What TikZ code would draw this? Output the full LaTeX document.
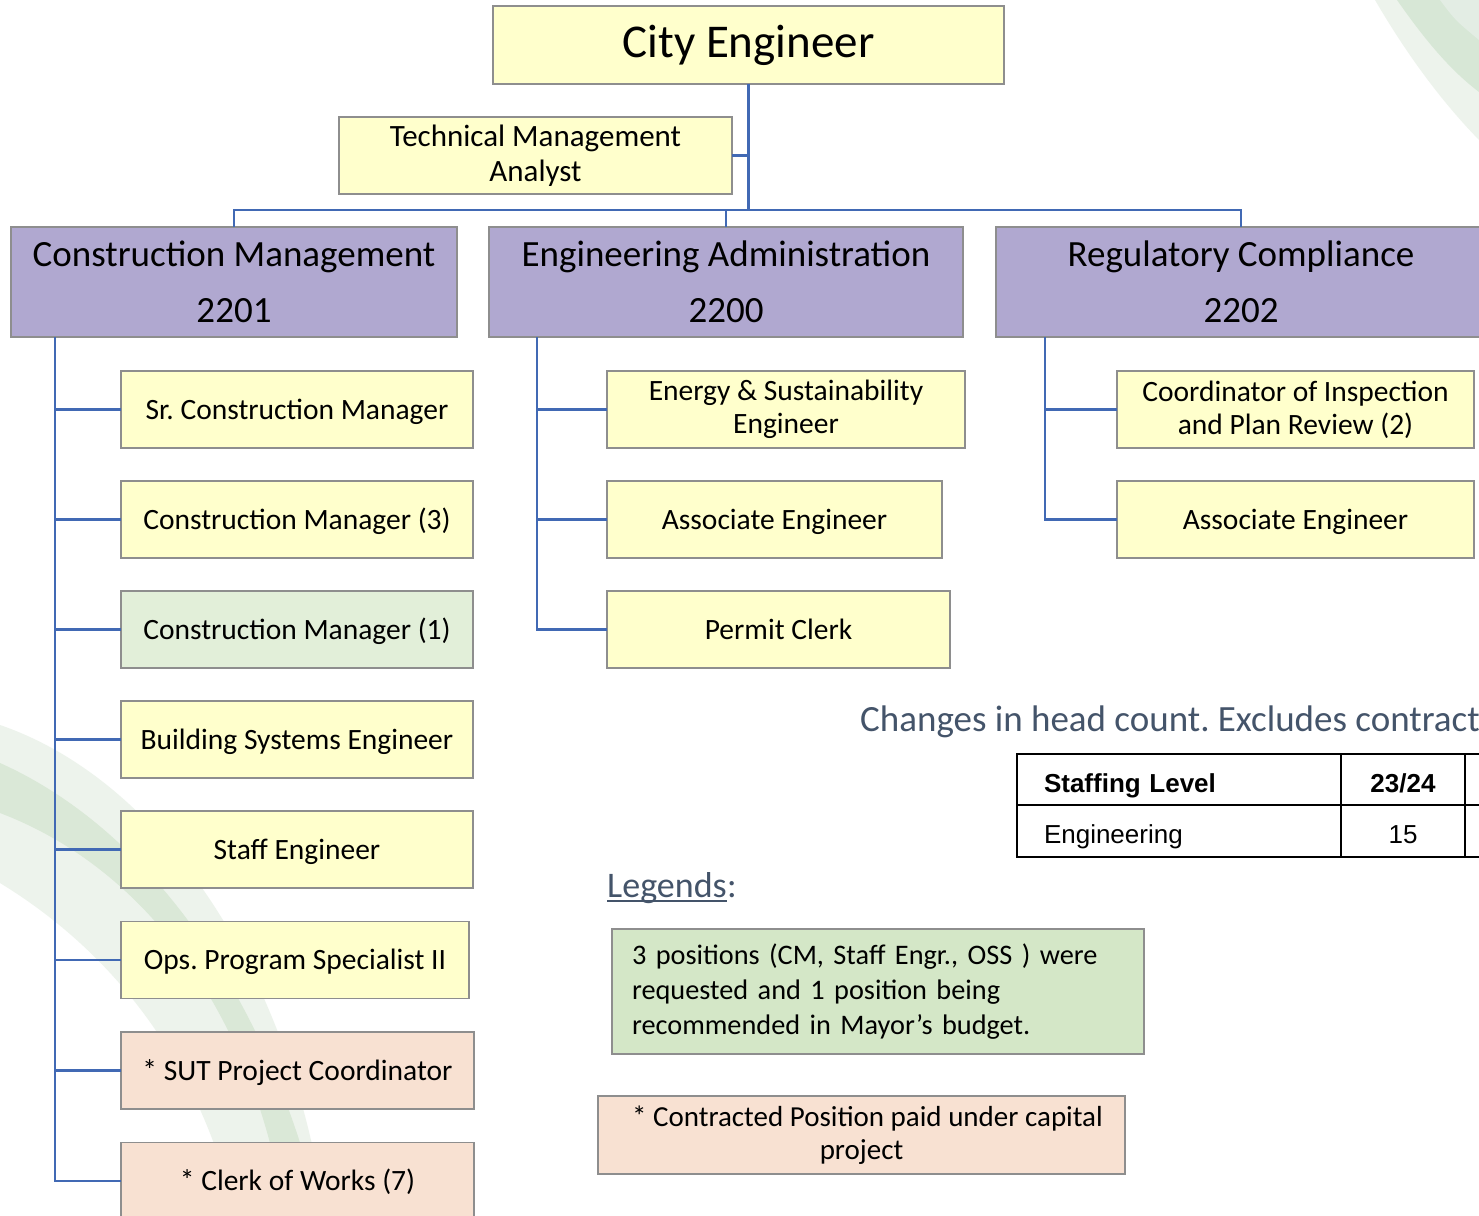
\documentclass[tikz,border=0pt]{standalone}
\usepackage{fontspec}
\setmainfont{Carlito}
\newfontfamily\arialfont{Liberation Sans}
\newcommand\setfs[2]{\fontsize{#1}{#2}\selectfont}
\definecolor{boxline}{HTML}{8E8E8E}
\definecolor{boxyellow}{HTML}{FFFFCC}
\definecolor{boxpurple}{HTML}{B0A8D0}
\definecolor{boxgreen}{HTML}{E2EFD9}
\definecolor{boxpeach}{HTML}{F8E1D2}
\definecolor{leggreen}{HTML}{D4E7C7}
\definecolor{connblue}{HTML}{4169B4}
\definecolor{slate}{HTML}{44546A}
\definecolor{swlight}{HTML}{EDF3EC}
\definecolor{swmid}{HTML}{D7E7D6}
\definecolor{swpale}{HTML}{E3EDE4}
\definecolor{swdark}{HTML}{DAE8D7}
\tikzset{
  orgbox/.style={draw=boxline, line width=1.3pt, inner sep=0pt, outer sep=0pt,
    align=center, text=black},
  ybox/.style={orgbox, fill=boxyellow},
  pbox/.style={orgbox, fill=boxpurple},
  gbox/.style={orgbox, fill=boxgreen},
  cbox/.style={orgbox, fill=boxpeach},
  childbox/.style={minimum height=77pt, font=\setfs{29.5}{33}},
  oneline/.style={text height=22pt, text depth=3pt},
  deptbox/.style={pbox, minimum height=110pt, font=\setfs{37}{56}},
  conn/.style={draw=connblue, line width=2.8pt},
  cell/.style={draw=black, line width=2.6pt, inner sep=0pt, outer sep=0pt,
    font=\arialfont\setfs{26}{30}, text height=26pt, text depth=1pt},
}
\begin{document}
\frenchspacing
\begin{tikzpicture}[x=1pt, y=-1pt]
\useasboundingbox (0,0) rectangle (1479,1215);
\clip (0,0) rectangle (1479,1215);
\fill[white] (0,0) rectangle (1479,1215);

% decorative background swooshes
\fill[swlight] (1375,0) .. controls (1410,60) and (1445,105) .. (1479,140) -- (1479,0) -- cycle;
\fill[swmid] (1397,0) .. controls (1425,40) and (1450,70) .. (1479,92) -- (1479,0) -- cycle;
\fill[swpale] (1440,0) .. controls (1455,20) .. (1479,40) -- (1479,0) -- cycle;
\fill[swlight] (0,725) .. controls (160,780) and (290,970) .. (325,1215)
  -- (235,1215) .. controls (200,1060) and (110,950) .. (0,883) -- cycle;
\fill[swdark] (0,763) .. controls (150,830) and (270,1000) .. (320,1215)
  -- (285,1215) .. controls (255,1020) and (150,870) .. (0,813) -- cycle;

% head and staff
\node[ybox, minimum width=511pt, minimum height=78pt, font=\setfs{47}{56}] (ce) at (748.5,45) {City Engineer};
\node[ybox, minimum width=393pt, minimum height=77pt, font=\setfs{31}{35}] (tma) at (535.5,155.5) {Technical Management\\Analyst};

% divisions
\node[deptbox, minimum width=446pt] (cm) at (234,282) {Construction Management\\2201};
\node[deptbox, minimum width=474pt] (ea) at (726,282) {Engineering Administration\\2200};
\node[deptbox, minimum width=490pt] (rc) at (1241,282) {Regulatory Compliance\\2202};

% Construction Management positions
\node[ybox, childbox, oneline, minimum width=352pt] (cm1) at (297,409.5) {Sr. Construction Manager};
\node[ybox, childbox, oneline, minimum width=352pt] (cm2) at (297,519.5) {Construction Manager (3)};
\node[gbox, childbox, oneline, minimum width=352pt] (cm3) at (297,629.5) {Construction Manager (1)};
\node[ybox, childbox, oneline, minimum width=352pt] (cm4) at (297,739.5) {Building Systems Engineer};
\node[ybox, childbox, oneline, minimum width=352pt] (cm5) at (297,849.5) {Staff Engineer};
\node[ybox, childbox, oneline, minimum width=348pt] (cm6) at (295,960) {Ops. Program Specialist II};
\node[cbox, childbox, oneline, minimum width=353pt] (cm7) at (297.5,1070.5) {* SUT Project Coordinator};
\node[cbox, childbox, oneline, minimum width=353pt] (cm8) at (297.5,1181) {* Clerk of Works (7)};

% Engineering Administration positions
\node[ybox, childbox, minimum width=358pt] (ea1) at (786,409.5) {Energy \& Sustainability\\Engineer};
\node[ybox, childbox, oneline, minimum width=335pt] (ea2) at (774.5,519.5) {Associate Engineer};
\node[ybox, childbox, oneline, minimum width=343pt] (ea3) at (778.5,629.5) {Permit Clerk};

% Regulatory Compliance positions
\node[ybox, childbox, minimum width=357pt] (rc1) at (1295.5,409.5) {Coordinator of Inspection\\and Plan Review (2)};
\node[ybox, childbox, oneline, minimum width=357pt] (rc2) at (1295.5,519.5) {Associate Engineer};

% connectors
\coordinate (bus) at (0,210);
\draw[conn] (ce.south) -- (ce.south |- bus);
\draw[conn] (tma.east) -- (tma.east -| ce.south);
\draw[conn] (cm.north) -- (cm.north |- bus) -- (rc.north |- bus) -- (rc.north);
\draw[conn] (ea.north) -- (ea.north |- bus);

\coordinate (cmt) at (55,337);
\coordinate (eat) at (537,337);
\coordinate (rct) at (1045,337);
\draw[conn] (cmt) |- (cm8.west);
\foreach \n in {cm1,cm2,cm3,cm4,cm5,cm6,cm7}
  \draw[conn] (cmt |- \n.west) -- (\n.west);
\draw[conn] (eat) |- (ea3.west);
\foreach \n in {ea1,ea2}
  \draw[conn] (eat |- \n.west) -- (\n.west);
\draw[conn] (rct) |- (rc2.west);
\draw[conn] (rct |- rc1.west) -- (rc1.west);

% head count note and table
\node[anchor=base west, inner sep=0pt, text=slate, font=\setfs{37}{40}] (chg) at (860,731) {Changes in head count. Excludes contractors};
\node[cell, minimum width=324pt, minimum height=51pt, text width=270pt, inner xsep=27pt, align=left] (t11) at (1179,779.5) {\bfseries Staffing Level};
\node[cell, minimum width=124pt, minimum height=51pt, align=center] (t12) at (1403,779.5) {\bfseries 23/24};
\node[cell, minimum width=80pt, minimum height=51pt] (t13) at (1505,779.5) {};
\node[cell, minimum width=324pt, minimum height=52pt, text width=270pt, inner xsep=27pt, align=left] (t21) at (1179,831) {Engineering};
\node[cell, minimum width=124pt, minimum height=52pt, align=center] (t22) at (1403,831) {15};
\node[cell, minimum width=80pt, minimum height=52pt] (t23) at (1505,831) {};

% legend
\node[anchor=base west, inner sep=0pt, text=slate, font=\setfs{36}{40}] (lg) at (607,897) {Legends};
\node[anchor=base west, inner sep=0pt, text=slate, font=\setfs{36}{40}] (lgc) at (lg.base east) {:};
\draw[slate, line width=1.8pt] ([yshift=-4pt]lg.base west) -- ([yshift=-4pt]lg.base east);
\node[orgbox, fill=leggreen, minimum width=532pt, minimum height=125pt, text width=492pt,
  inner xsep=20pt, align=left, font=\setfs{28.3}{35}] (lg1) at (878,991.5)
  {3 positions (CM, Staff Engr., OSS ) were\\requested and 1 position being\\recommended in Mayor’s budget.};
\node[cbox, minimum width=527pt, minimum height=78pt, font=\setfs{29}{33}] (lg2) at (861.5,1135)
  {\hspace*{12pt}* Contracted Position paid under capital\\project};
\end{tikzpicture}
\end{document}
